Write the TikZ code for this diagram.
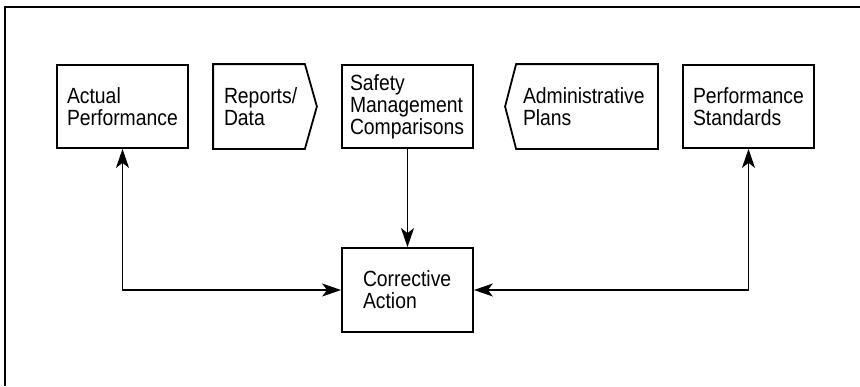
\documentclass[tikz,border=0pt]{standalone}
\usepackage{fontspec}
\setmainfont{Liberation Sans}[FakeStretch=0.88]
\usetikzlibrary{calc,arrows.meta}
\def\boxnode{\node[stepbox]}
\def\drawlink{\draw[link]}

\begin{document}
\begin{tikzpicture}[x=1pt,y=-1pt,font=\fontsize{22}{22}\selectfont,
  >={Stealth[length=19pt,width=13pt,inset=5pt]},
  stepbox/.style={draw,line width=1.8pt,align=left,minimum height=83pt,inner xsep=10pt,inner ysep=0pt,text width=111pt},
  openbox/.style={stepbox,draw=none}, % outline drawn by hand
  link/.style={line width=1.3pt}]
\useasboundingbox (0,0) rectangle (860,386);

% frame, open on the right and at the bottom
\draw[line width=1.6pt] (5,386) -- (5,7) -- (860,7);

% ---------- top row
\boxnode (actual) at (122.5,106.5) {Actual\\Performance};
\node[openbox,text width=70pt] (reports) at (259,106.5) {Reports/\\Data};
\draw[line width=1.8pt] (reports.north west) -- (reports.north east)
  -- ($ (reports.east) + (12,0) $) -- (reports.south east) -- (reports.south west) -- cycle;
\boxnode[text width=115pt,inner xsep=8pt] (safety) at (407.5,106.5) {Safety\\Management\\Comparisons};
\node[openbox,text width=128pt,inner xsep=6pt] (admin) at (587,106.5) {Administrative\\Plans};
\draw[line width=1.8pt] (admin.north east) -- (admin.north west)
  -- ($ (admin.west) - (11,0) $) -- (admin.south west) -- (admin.south east) -- cycle;
\boxnode (standards) at (748.5,106.5) {Performance\\Standards};

% ---------- corrective action and its feedback lines
\boxnode[minimum height=84pt,text width=89pt,inner xsep=21pt] (corrective) at (407.5,290) {Corrective\\Action};
\drawlink[->] (safety.south) -- (corrective.north);
\drawlink[<->] (actual.south) |- (corrective.west);
\drawlink[<->] (standards.south) |- (corrective.east);
\end{tikzpicture}
\end{document}
